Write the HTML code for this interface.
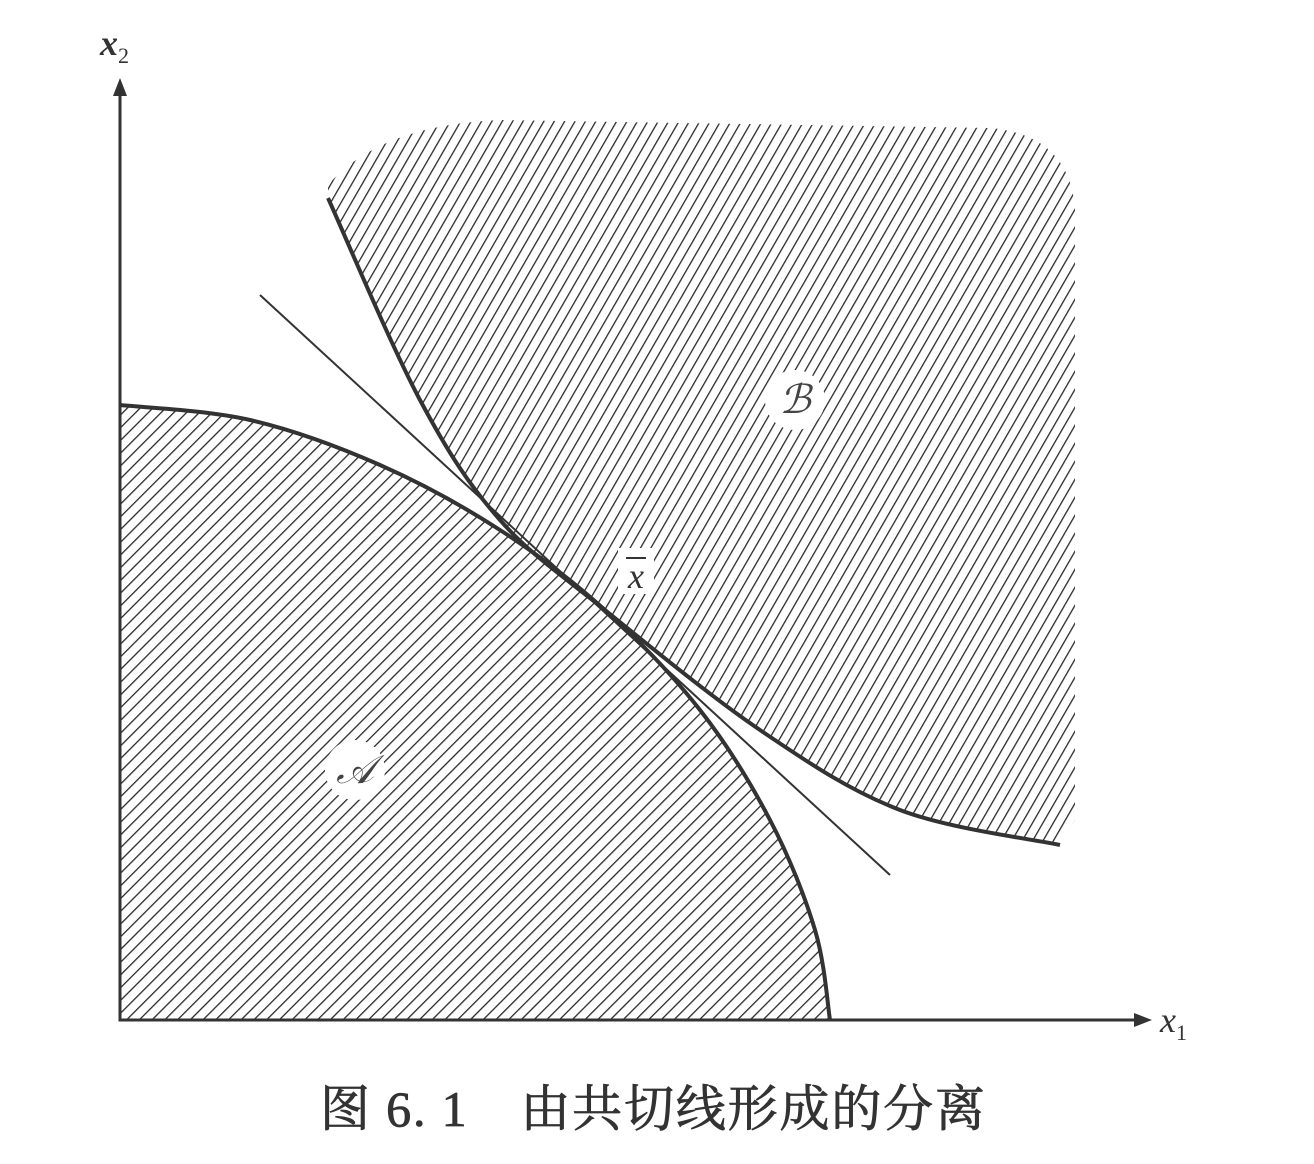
<!DOCTYPE html>
<html><head><meta charset="utf-8"><style>
html,body{margin:0;padding:0;background:#fff;}
svg{display:block;}
</style></head><body>
<svg width="1314" height="1164" viewBox="0 0 1314 1164" xmlns="http://www.w3.org/2000/svg">
<defs>
<pattern id="hatchA" patternUnits="userSpaceOnUse" width="9" height="9" patternTransform="rotate(45)">
<line x1="0" y1="0" x2="0" y2="9" stroke="#2a2a2a" stroke-width="2.6"/>
</pattern>
<pattern id="hatchB" patternUnits="userSpaceOnUse" width="9" height="9" patternTransform="rotate(30)">
<line x1="0" y1="0" x2="0" y2="9" stroke="#2a2a2a" stroke-width="2.6"/>
</pattern>
</defs>
<g id="chart"></g>
<text x="100" y="55" font-family="Liberation Serif, serif" font-style="italic" font-weight="bold" font-size="36" fill="#333">x<tspan font-size="22" dy="8" font-style="normal" font-weight="normal">2</tspan></text>
<text x="1160" y="1032" font-family="Liberation Serif, serif" font-style="italic" font-size="36" fill="#333">x<tspan font-size="22" dy="8" font-style="normal">1</tspan></text>
<text x="320" y="1126" textLength="665" lengthAdjust="spacing" font-family="Liberation Serif, 'Noto Serif CJK SC', serif" font-size="50" fill="#333" stroke="#333" stroke-width="0.8">图 6. 1　由共切线形成的分离</text>
</svg>
<script>
const regionA = [[120,405],[250,420],[380,465],[500,530],[605,610],[700,710],[770,820],[815,930],[830,1020]];
const regionBLeft = [[328,198],[420,400],[500,520],[605,610],[760,730],[900,810],[1060,845]];
const tangentLine = [[260,295],[890,875]];
const g = document.getElementById('chart');
const NS='http://www.w3.org/2000/svg';
function smooth(pts){let d='M'+pts[0][0]+','+pts[0][1];for(let i=0;i<pts.length-1;i++){const p0=pts[i-1]||pts[i],p1=pts[i],p2=pts[i+1],p3=pts[i+2]||p2;const c1=[p1[0]+(p2[0]-p0[0])/6,p1[1]+(p2[1]-p0[1])/6],c2=[p2[0]-(p3[0]-p1[0])/6,p2[1]-(p3[1]-p1[1])/6];d+=` C${c1[0]},${c1[1]} ${c2[0]},${c2[1]} ${p2[0]},${p2[1]}`;}return d;}
function mk(tag,attrs){const e=document.createElementNS(NS,tag);for(const k in attrs)e.setAttribute(k,attrs[k]);g.appendChild(e);return e;}
const bd = smooth(regionBLeft)+' L1075,820 L1075,210 Q1070,135 990,128 L500,120 Q380,125 328,185 Z';
let e=mk('path',{d:bd,fill:'url(#hatchB)',stroke:'none'});


e=mk('path',{d:smooth(regionBLeft),fill:'none',stroke:'#333','stroke-width':4});


const ad = smooth(regionA)+' L120,1020 Z';
e=mk('path',{d:ad,fill:'url(#hatchA)',stroke:'none'});


e=mk('path',{d:smooth(regionA),fill:'none',stroke:'#333','stroke-width':4});


e=mk('line',{x1:tangentLine[0][0],y1:tangentLine[0][1],x2:tangentLine[1][0],y2:tangentLine[1][1],stroke:'#333','stroke-width':2});


e=mk('path',{d:'M120,95 L120,1020 L1140,1020',fill:'none',stroke:'#333','stroke-width':3});


e=mk('path',{d:'M120,78 L113,96 L127,96 Z M1152,1020 L1134,1013 L1134,1027 Z',fill:'#333'});


const labels=[['𝒜',355,770,'region-a-label'],['ℬ',795,400,'region-b-label']];
labels.forEach(l=>{
 let c=mk('ellipse',{cx:l[1],cy:l[2],rx:30,ry:30,fill:'#fff'});
 
 
 let t=mk('text',{x:l[1],y:l[2]+13,'text-anchor':'middle','font-family':'DejaVu Serif, serif','font-size':40,'font-style':'italic',fill:'#444'});
 t.textContent=l[0];
 
 
});
let c=mk('rect',{x:618,y:548,width:36,height:46,fill:'#fff'});


let t=mk('text',{x:636,y:588,'text-anchor':'middle','font-family':'Liberation Serif, serif','font-size':36,'font-style':'italic',fill:'#333'});
t.textContent='x';


let b=mk('line',{x1:626,y1:558,x2:646,y2:558,stroke:'#333','stroke-width':2});


</script>
</body></html>
